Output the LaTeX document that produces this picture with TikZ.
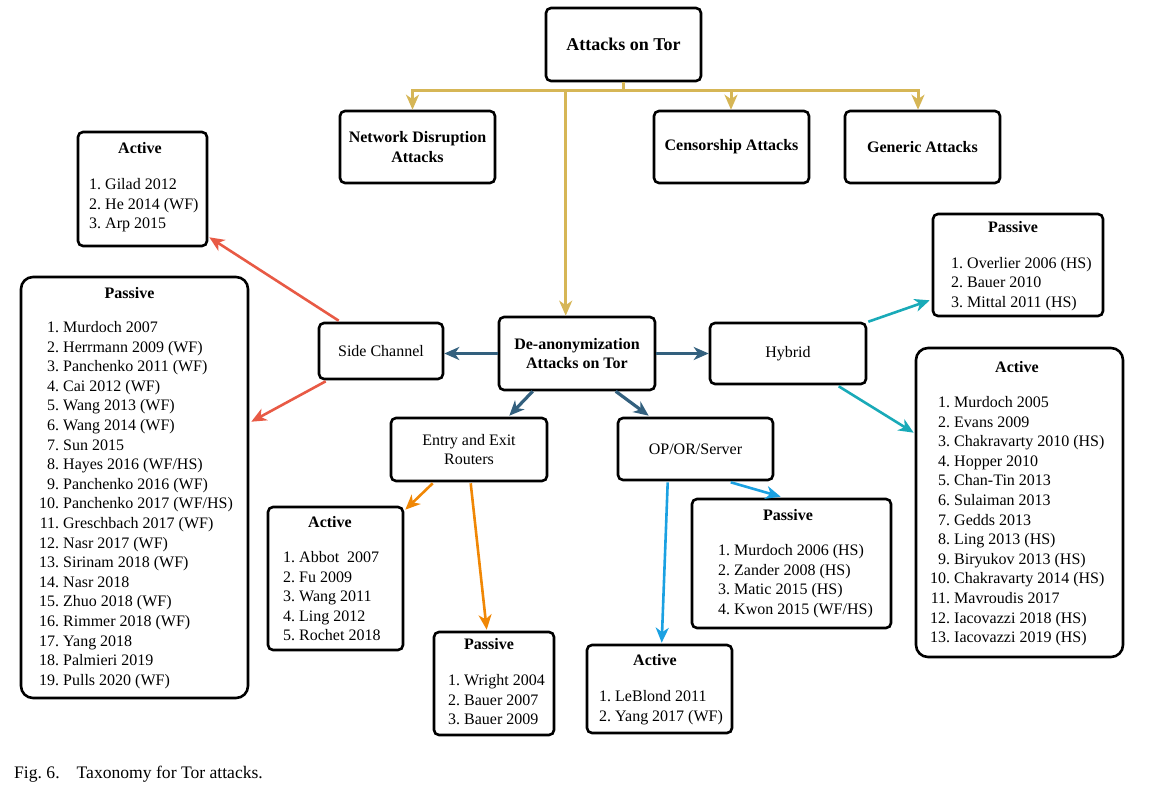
\documentclass[tikz,border=0pt]{standalone}
\usepackage{fontspec}
\setmainfont{Liberation Serif}
\usetikzlibrary{arrows.meta,calc}
\definecolor{cyel}{HTML}{D6B656}
\definecolor{cred}{HTML}{E85A45}
\definecolor{cdb}{HTML}{33607E}
\definecolor{cor}{HTML}{F08705}
\definecolor{cbl}{HTML}{1BA1E2}
\definecolor{ctl}{HTML}{19AAB8}
\newcommand{\lstfont}{\fontsize{16}{19.6}\selectfont}
\newcommand{\mylist}[1]{\begin{tabular}[t]{@{}r@{\ }l@{}}#1\end{tabular}}
\tikzset{
  box/.style={draw, line width=2.6pt, rounded corners=5pt, inner sep=0pt, align=center, font=\lstfont},
  bigbox/.style={box, rounded corners=12pt},
  ttl/.style={anchor=base, inner sep=0pt, font=\lstfont\bfseries},
  lst/.style={anchor=base west, inner sep=0pt, font=\lstfont},
  tip/.style={-{Stealth[length=15pt,width=13pt,inset=4.5pt]}},
  yline/.style={draw=cyel, line width=3pt},
  redl/.style={draw=cred, line width=2.6pt, tip},
  dbl/.style={draw=cdb, line width=3.2pt, tip},
  orl/.style={draw=cor, line width=2.6pt, tip},
  bll/.style={draw=cbl, line width=2.6pt, tip},
  tll/.style={draw=ctl, line width=2.6pt, tip}
}
\begin{document}
\begin{tikzpicture}[x=1pt,y=-1pt]
\useasboundingbox (0,0) rectangle (1149,789);
% top level
\node[box, minimum width=155pt, minimum height=73pt, font=\fontsize{18}{21}\selectfont\bfseries] (rt) at (623.5,44.5) {Attacks on Tor};
\node[box, minimum width=155pt, minimum height=72pt, font=\lstfont\bfseries] (nd) at (417.5,147) {Network Disruption\\Attacks};
\node[box, minimum width=155pt, minimum height=72pt, font=\lstfont\bfseries] (cs) at (731.5,147) {Censorship Attacks};
\node[box, minimum width=155pt, minimum height=72pt, font=\lstfont\bfseries] (ga) at (922.5,147) {Generic Attacks};
% second level
\node[box, minimum width=156pt, minimum height=73pt, font=\lstfont\bfseries] (da) at (577,353.5) {De-anonymization\\Attacks on Tor};
\node[box, minimum width=124pt, minimum height=56pt] (sc) at (381,351) {Side Channel};
\node[box, minimum width=156pt, minimum height=61pt] (hy) at (788,353.5) {Hybrid};
\node[box, minimum width=156pt, minimum height=63pt] (en) at (469,449.5) {Entry and Exit\\Routers};
\node[box, minimum width=155pt, minimum height=62pt] (op) at (695.5,449) {OP/OR/Server};
% leaf boxes
\node[box, minimum width=129pt, minimum height=114pt] (la) at (142.5,189) {};
\node[ttl] (la-t) at (140,153.5) {Active};
\node[lst] (la-l) at (89,189.5) {\mylist{1.&Gilad 2012\\2.&He 2014 (WF)\\3.&Arp 2015}};

\node[bigbox, minimum width=227pt, minimum height=421pt] (lp) at (134.5,487.5) {};
\node[ttl] (lp-t) at (129.5,298.5) {Passive};
\node[lst] (lp-l) at (39,332.5) {\mylist{1.&Murdoch 2007\\2.&Herrmann 2009 (WF)\\3.&Panchenko 2011 (WF)\\4.&Cai 2012 (WF)\\5.&Wang 2013 (WF)\\6.&Wang 2014 (WF)\\7.&Sun 2015\\8.&Hayes 2016 (WF/HS)\\9.&Panchenko 2016 (WF)\\10.&Panchenko 2017 (WF/HS)\\11.&Greschbach 2017 (WF)\\12.&Nasr 2017 (WF)\\13.&Sirinam 2018 (WF)\\14.&Nasr 2018\\15.&Zhuo 2018 (WF)\\16.&Rimmer 2018 (WF)\\17.&Yang 2018\\18.&Palmieri 2019\\19.&Pulls 2020 (WF)}};

\node[box, minimum width=135pt, minimum height=143pt] (ea) at (335.5,578.5) {};
\node[ttl] (ea-t) at (330,527.5) {Active};
\node[lst] (ea-l) at (283,562.5) {\mylist{1.&Abbot\ \ 2007\\2.&Fu 2009\\3.&Wang 2011\\4.&Ling 2012\\5.&Rochet 2018}};

\node[box, minimum width=120pt, minimum height=103pt] (ep) at (494,683.5) {};
\node[ttl] (ep-t) at (489,649.5) {Passive};
\node[lst] (ep-l) at (448,685.5) {\mylist{1.&Wright 2004\\2.&Bauer 2007\\3.&Bauer 2009}};

\node[box, minimum width=145pt, minimum height=88pt] (oa) at (659.5,689) {};
\node[ttl] (oa-t) at (655,665.5) {Active};
\node[lst] (oa-l) at (599,701.5) {\mylist{1.&LeBlond 2011\\2.&Yang 2017 (WF)}};

\node[box, minimum width=199pt, minimum height=129pt] (opp) at (791.5,563.5) {};
\node[ttl] (opp-t) at (788,520.5) {Passive};
\node[lst] (opp-l) at (718,555.5) {\mylist{1.&Murdoch 2006 (HS)\\2.&Zander 2008 (HS)\\3.&Matic 2015 (HS)\\4.&Kwon 2015 (WF/HS)}};

\node[box, minimum width=170pt, minimum height=102pt] (hp) at (1018,265) {};
\node[ttl] (hp-t) at (1013,232.5) {Passive};
\node[lst] (hp-l) at (951,268) {\mylist{1.&Overlier 2006 (HS)\\2.&Bauer 2010\\3.&Mittal 2011 (HS)}};

\node[bigbox, minimum width=207pt, minimum height=309pt] (ha) at (1019.5,502.5) {};
\node[ttl] (ha-t) at (1017,372.5) {Active};
\node[lst] (ha-l) at (930,407.5) {\mylist{1.&Murdoch 2005\\2.&Evans 2009\\3.&Chakravarty 2010 (HS)\\4.&Hopper 2010\\5.&Chan-Tin 2013\\6.&Sulaiman 2013\\7.&Gedds 2013\\8.&Ling 2013 (HS)\\9.&Biryukov 2013 (HS)\\10.&Chakravarty 2014 (HS)\\11.&Mavroudis 2017\\12.&Iacovazzi 2018 (HS)\\13.&Iacovazzi 2019 (HS)}};

% yellow connectors
\coordinate (yj) at (623.5,91);
\draw[yline] (rt.south) -- (yj);
\draw[yline,tip] (yj) -| ([xshift=-5pt]nd.north);
\draw[yline,tip] (yj) -| ([xshift=-0.5pt]cs.north);
\draw[yline,tip] (yj) -| ([xshift=-4.5pt]ga.north);
\draw[yline,tip] ([xshift=68pt]da.north west |- yj) -- ([xshift=68pt]da.north west);
% dark blue
\draw[dbl] (da.west) -- (da.west -| sc.east);
\draw[dbl] (da.east) -- (da.east -| hy.west);
\draw[dbl] ([xshift=35pt]da.south west) -- ([xshift=-39pt,yshift=1pt]en.north east);
\draw[dbl] ([xshift=118pt]da.south west) -- ([xshift=32pt,yshift=1pt]op.north west);
% red
\draw[redl] ([xshift=21pt,yshift=1pt]sc.north west) -- ([xshift=1pt,yshift=10pt]la.south east);
\draw[redl] ([xshift=8pt,yshift=-1pt]sc.south west) -- ([xshift=2pt,yshift=-146pt]lp.north east);
% orange
\draw[orl] ([xshift=43pt,yshift=-1pt]en.south west) -- ([xshift=1pt,yshift=-4pt]ea.north east);
\draw[orl] ([xshift=81pt,yshift=-1pt]en.south west) -- ([xshift=54pt,yshift=1pt]ep.north west);
% blue
\draw[bll] ([xshift=51pt,yshift=-1pt]op.south west) -- ([xshift=76pt,yshift=1pt]oa.north west);
\draw[bll] ([xshift=114pt,yshift=-1pt]op.south west) -- ([xshift=90pt,yshift=1pt]opp.north west);
% teal
\draw[tll] ([xshift=1pt]hy.north east) -- ([xshift=-2pt,yshift=17pt]hp.south west);
\draw[tll] ([xshift=130pt,yshift=-1pt]hy.south west) -- ([xshift=-1pt,yshift=-86pt]ha.north west);
% caption
\node[anchor=base west, inner sep=0pt, font=\fontsize{17.6}{20}\selectfont] (cap) at (14,778) {Fig.~6.\hspace{17pt}Taxonomy for Tor attacks.};
\end{tikzpicture}
\end{document}
